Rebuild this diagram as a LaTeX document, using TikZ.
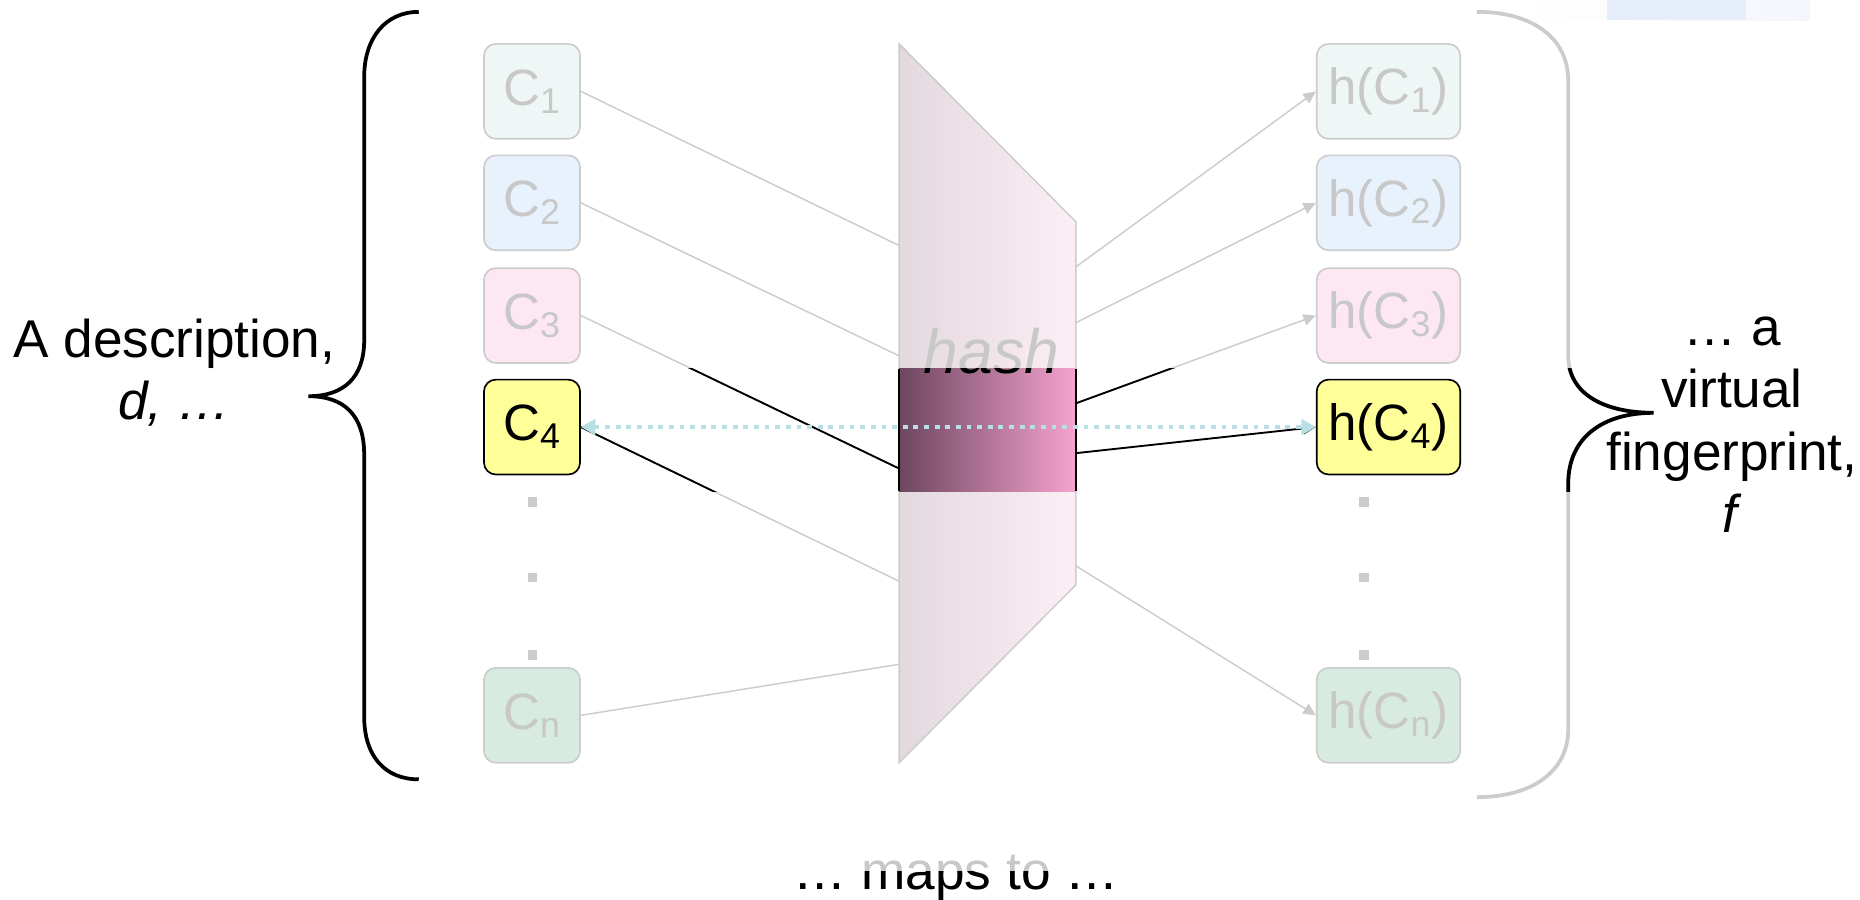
\documentclass[tikz,border=0pt]{standalone}
\usepackage{fontspec}
\setmainfont{Liberation Sans}
\usetikzlibrary{arrows.meta, positioning}

\definecolor{fadetext}{HTML}{C8C8C8}
\definecolor{fadeline}{HTML}{CCCCCC}
\definecolor{cone}{HTML}{EEF7F5}
\definecolor{ctwo}{HTML}{E7F2FC}
\definecolor{cthree}{HTML}{FDE7F2}
\definecolor{cenn}{HTML}{D7EBE0}
\definecolor{hlyellow}{HTML}{FFFF99}
\definecolor{hashleft}{HTML}{E2D9DE}
\definecolor{hashright}{HTML}{FCEEF5}
\definecolor{bandleft}{HTML}{6D465F}
\definecolor{bandright}{HTML}{F6A3CF}
\definecolor{tealdot}{HTML}{B8DFE3}
\definecolor{fadeblue}{HTML}{F4F6FC}
\definecolor{blockblue}{HTML}{E6EDFB}

\begin{document}
\begin{tikzpicture}[x=0.02cm, y=-0.02cm,
    cnode/.style={draw=fadeline, fill=#1, rounded corners=0.2cm, line width=0.8pt,
        minimum width=1.62cm, minimum height=1.6cm, inner sep=0pt,
        text=fadetext, font=\fontsize{24.5}{29}\selectfont},
    hnode/.style={cnode=#1, minimum width=2.42cm},
    hl/.style={draw=black, text=black},
    fedge/.style={draw=fadeline, line width=0.7pt},
    farrow/.style={fedge, -{Triangle[length=6pt, width=5.5pt]}},
    bedge/.style={draw=black, line width=0.9pt},
    barrow/.style={bedge, -{Triangle[length=6pt, width=5.5pt]}},
    link/.style={draw=tealdot, line width=2.3pt, dash pattern=on 2.3pt off 2.8pt,
        {Triangle[length=7pt, width=7.5pt]}-{Triangle[length=7pt, width=7.5pt]}},
    brace/.style={line width=1.8pt},
    lbl/.style={font=\fontsize{25.5}{30}\selectfont, align=center}
]
    \useasboundingbox (0,0) rectangle (1568,758);

    % faint fragment, top right
    \shade[left color=white, right color=fadeblue] (1280,0) rectangle (1526,17);
    \fill[blockblue] (1355,0) rectangle (1472,17);

    % hash block
    \coordinate (ht) at (758,37);
    \coordinate (hr1) at (907,187);
    \coordinate (hr2) at (907,493);
    \coordinate (hb) at (758,643);
    \shade[left color=hashleft, right color=hashright] (ht) -- (hr1) -- (hr2) -- (hb) -- cycle;
    \draw[fedge] (ht) -- (hr1) -- (hr2) -- (hb) -- cycle;

    \coordinate (in1) at (758,207);
    \coordinate (in2) at (758,300);
    \coordinate (in3) at (758,395);
    \coordinate (in4) at (758,490);
    \coordinate (inn) at (758,560);
    \coordinate (out1) at (907,225);
    \coordinate (out2) at (907,272);
    \coordinate (out3) at (907,340);
    \coordinate (out4) at (907,382);
    \coordinate (outn) at (907,477);

    % inputs and outputs
    \node[cnode=cone] (c1) at (448.5,77) {C\textsubscript{1}};
    \node[cnode=ctwo] (c2) at (448.5,171) {C\textsubscript{2}};
    \node[cnode=cthree] (c3) at (448.5,266) {C\textsubscript{3}};
    \node[cnode=hlyellow, hl] (c4) at (448.5,360) {C\textsubscript{4}};
    \node[cnode=cenn] (cn) at (448.5,603) {C\textsubscript{n}};

    \node[hnode=cone] (h1) at (1170.5,77) {h(C\textsubscript{1})};
    \node[hnode=ctwo] (h2) at (1170.5,171) {h(C\textsubscript{2})};
    \node[hnode=cthree] (h3) at (1170.5,266) {h(C\textsubscript{3})};
    \node[hnode=hlyellow, hl] (h4) at (1170.5,360) {h(C\textsubscript{4})};
    \node[hnode=cenn] (hn) at (1170.5,603) {h(C\textsubscript{n})};

    \foreach \y in {423,487,552} {
        \fill[fadeline] (445,\y-4) rectangle (453,\y+4);
        \fill[fadeline] (1146,\y-4) rectangle (1154,\y+4);
    }

    \draw[fedge] (c1.east) -- (in1);
    \draw[fedge] (c2.east) -- (in2);
    \draw[fedge] (c3.east) -- (in3);
    \draw[fedge] (c4.east) -- (in4);
    \draw[fedge] (cn.east) -- (inn);
    \draw[farrow] (out1) -- (h1.west);
    \draw[farrow] (out2) -- (h2.west);
    \draw[farrow] (out3) -- (h3.west);
    \draw[farrow] (outn) -- (hn.west);

    % highlighted band
    \shade[left color=bandleft, right color=bandright] (758,311) rectangle (907,414);
    \draw[bedge] (758,311) -- (758,414) (907,311) -- (907,414);
    \node[font=\fontsize{30}{36}\selectfont\itshape, text=fadetext, anchor=base] (hashg) at (836,315) {hash};

    % right brace
    \draw[brace, fadeline] (1245,10) .. controls (1292,10) and (1322,32) .. (1322,68)
        -- (1322,300) .. controls (1322,332) and (1352,348) .. (1394,348)
        .. controls (1352,348) and (1322,368) .. (1322,408)
        -- (1322,615) .. controls (1322,650) and (1292,672) .. (1245,672);

    \begin{scope}
        \clip (0,311) rectangle (1568,414);
        \node[font=\fontsize{30}{36}\selectfont\itshape, anchor=base] (hashb) at (836,315) {hash};
        \draw[bedge] (c3.east) -- (in3);
        \draw[bedge] (c4.east) -- (in4);
        \draw[bedge] (out3) -- (h3.west);
        \draw[brace] (1322,300) .. controls (1322,332) and (1352,348) .. (1394,348)
            .. controls (1352,348) and (1322,368) .. (1322,408) -- (1322,420);
    \end{scope}
    \draw[barrow] (out4) -- (h4.west);
    \draw[link] (c4.east) -- (h4.west);

    % left brace
    \draw[brace] (353,10) .. controls (325,10) and (307,32) .. (307,65)
        -- (307,287) .. controls (307,318) and (290,334) .. (260,334)
        .. controls (290,334) and (307,350) .. (307,383)
        -- (307,604) .. controls (307,638) and (325,657) .. (353,657);

    % texts
    \node[lbl] (desc) at (147,314) {A description,\\\textit{d, …}};
    \node[lbl] (finger) at (1460,358) {… a\\virtual\\fingerprint,\\\textit{f}};
    \node[lbl, anchor=base, text=fadetext] (maps) at (806,750)
        {\textcolor{black}{…} maps to \textcolor{black}{…}};
    \begin{scope}
        \clip (0,735) rectangle (1568,758);
        \node[lbl, anchor=base] (mapsb) at (806,750) {… maps to …};
    \end{scope}
\end{tikzpicture}
\end{document}
